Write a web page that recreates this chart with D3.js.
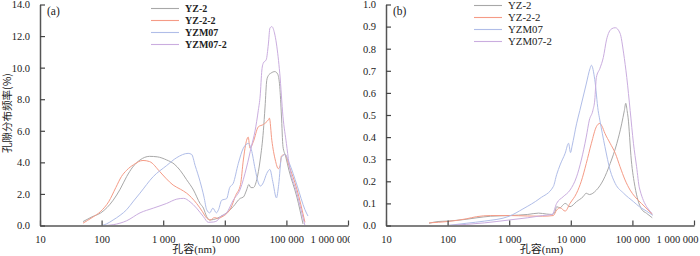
<!DOCTYPE html>
<html><head><meta charset="utf-8">
<script src="https://cdn.jsdelivr.net/npm/d3@7"></script>
<style>
html,body{margin:0;padding:0;background:#fff;}
svg{display:block;}
text{font-family:"Liberation Serif","Times New Roman",serif;fill:#222;}
.cjk{font-family:"Noto Sans CJK SC","Noto Sans",sans-serif;}
</style></head>
<body>
<svg id="c" width="700" height="256"></svg>
<script>
// ---------- data ----------
const seriesNames = ["YZ-2", "YZ-2-2", "YZM07", "YZM07-2"];
const xTickValues = [10, 100, 1000, 10000, 100000, 1000000];
const xTickLabels = ["10", "100", "1 000", "10 000", "100 000", "1 000 000"];
const yTicksA = [0, 2, 4, 6, 8, 10, 12, 14];
const yTicksB = [0, 0.1, 0.2, 0.3, 0.4, 0.5, 0.6, 0.7, 0.8, 0.9, 1.0];

// panel (a): [pore size nm, frequency %]
const aYZ2 = [[50,0.25],[70,0.55],[97,0.8],[154,1.6],[200,2.3],[255,3.1],[320,3.7],[420,4.15],[600,4.38],[800,4.35],[1140,4.15],[1500,3.9],[1880,3.5],[2400,2.9],[3100,2.25],[3960,1.4],[4500,1.1],[5080,0.56],[5700,0.35],[6500,0.38],[7500,0.45],[8400,0.55],[10700,0.8],[13700,1.2],[17800,1.72],[20000,1.8],[22600,2.25],[24500,2.6],[26500,2.4],[29000,2.4],[33000,2.9],[37500,4.15],[42300,6.0],[45000,7.5],[48000,9.2],[51000,9.5],[56000,9.65],[65000,9.75],[72000,9.6],[78000,8.8],[83000,7.0],[88000,5.0],[97000,4.4],[110000,3.5],[148000,1.8],[186000,0.1]];
const aYZ22 = [[50,0.15],[70,0.5],[97,0.9],[130,1.5],[170,2.4],[210,3.1],[255,3.5],[330,3.85],[470,4.12],[600,4.05],[887,3.4],[1100,3.0],[1450,2.56],[1900,2.3],[2400,2.05],[3480,1.4],[4300,0.9],[5080,0.47],[5800,0.35],[6800,0.5],[7800,0.45],[9000,0.55],[10700,0.75],[12500,1.1],[15000,1.9],[18000,2.6],[20000,4.15],[22600,5.4],[24000,5.6],[25600,4.9],[29000,5.3],[35000,6.25],[42300,6.4],[51000,6.7],[53000,6.8],[58000,5.4],[66000,4.15],[74000,3.6],[79000,3.8],[83000,4.4],[95000,4.5],[110000,3.8],[148000,2.3],[200000,0.2]];
const aYZM07 = [[100,0.0],[120,0.1],[154,0.35],[200,0.65],[255,1.0],[330,1.55],[420,2.05],[690,3.1],[1140,3.8],[1660,4.3],[2540,4.57],[2900,4.5],[3300,3.8],[3960,2.8],[4600,1.8],[5080,1.0],[5700,0.8],[6400,1.1],[7300,0.8],[7900,1.0],[8900,1.6],[10700,1.7],[12000,2.4],[13700,2.67],[16600,3.94],[20000,4.9],[24200,5.2],[27000,4.8],[31000,3.6],[35000,2.7],[38000,2.5],[42000,2.7],[48000,3.3],[54000,3.55],[60000,2.8],[69000,1.75],[75000,2.6],[83000,4.3],[95000,4.5],[110000,4.0],[150000,2.5],[200000,1.0],[224000,0.6]];
const aYZM072 = [[110,0.0],[154,0.05],[255,0.3],[420,0.8],[690,1.1],[1140,1.4],[1660,1.67],[2150,1.72],[2730,1.5],[3480,1.1],[4500,0.56],[5400,0.2],[6500,0.22],[7500,0.3],[8400,0.55],[10700,0.8],[13700,1.6],[17800,2.3],[22600,3.7],[27000,5.0],[31000,6.0],[35000,7.3],[37500,8.2],[40000,9.85],[42300,10.3],[47000,10.5],[51000,11.5],[54000,12.5],[58000,12.6],[64000,12.2],[69000,11.5],[78000,9.65],[88000,6.9],[100000,5.2],[110000,3.95],[148000,2.05],[200000,0.0]];

// panel (b): [pore size nm, frequency]
const bYZ2 = [[50,0.01],[70,0.018],[100,0.02],[200,0.028],[300,0.035],[500,0.042],[1000,0.045],[2000,0.05],[3000,0.056],[4000,0.052],[5000,0.05],[5500,0.06],[5890,0.085],[6700,0.08],[7300,0.09],[8100,0.1],[9700,0.085],[12400,0.108],[15800,0.13],[17800,0.146],[20000,0.14],[26000,0.16],[33700,0.206],[43500,0.28],[56000,0.372],[67000,0.46],[74000,0.52],[78000,0.553],[82000,0.52],[85000,0.49],[96000,0.296],[110000,0.176],[123000,0.115],[140000,0.075],[170000,0.055],[210000,0.035]];
const bYZ22 = [[50,0.012],[100,0.018],[200,0.03],[296,0.04],[500,0.045],[1000,0.045],[2000,0.043],[3500,0.042],[5200,0.045],[5890,0.07],[6700,0.08],[8100,0.065],[9700,0.1],[12400,0.146],[14800,0.2],[17800,0.28],[21600,0.372],[26000,0.447],[29600,0.462],[32000,0.45],[35800,0.417],[43500,0.372],[52700,0.327],[63000,0.266],[76000,0.206],[92000,0.16],[110000,0.13],[140000,0.1],[180000,0.07],[210000,0.05]];
const bYZM07 = [[100,0.0],[200,0.01],[400,0.02],[1000,0.042],[1670,0.075],[3160,0.123],[5200,0.176],[5890,0.23],[6700,0.274],[8100,0.327],[9200,0.372],[9900,0.33],[10500,0.36],[12400,0.46],[14000,0.52],[17800,0.64],[20500,0.71],[21600,0.725],[24500,0.66],[27800,0.52],[29600,0.477],[35800,0.357],[43500,0.25],[52700,0.19],[72000,0.146],[104000,0.108],[130000,0.085],[170000,0.065],[215000,0.046]];
const bYZM072 = [[100,0.0],[200,0.005],[400,0.012],[1000,0.025],[2000,0.035],[3500,0.045],[5000,0.05],[5890,0.1],[7500,0.13],[9700,0.16],[12400,0.22],[14800,0.296],[17800,0.4],[20000,0.477],[22800,0.52],[24500,0.568],[26000,0.67],[29600,0.71],[33700,0.76],[38000,0.84],[46000,0.89],[52700,0.895],[63000,0.87],[72000,0.78],[81000,0.67],[92000,0.52],[104000,0.372],[117000,0.266],[130000,0.17],[210000,0.055]];

const colors = ["#a8a8a8", "#f59b86", "#b0bde8", "#caaddf"];

// ---------- drawing ----------
const svg = d3.select("#c");

function panel(opts) {
  const g = svg.append("g");
  svg.append("clipPath").attr("id", opts.id + "clip").append("rect")
    .attr("x", opts.clip[0]).attr("y", 0).attr("width", opts.clip[1] - opts.clip[0]).attr("height", 256);
  g.attr("clip-path", "url(#" + opts.id + "clip)");
  const x = d3.scaleLog().domain([10, 1e6]).range(opts.xr);
  const y = d3.scaleLinear().domain(opts.yd).range([225.5, 4.5]);

  // lines
  const line = d3.line().x(d => x(d[0])).y(d => y(d[1])).curve(d3.curveMonotoneX);
  opts.series.forEach((s, i) => {
    g.append("path").datum(s).attr("d", line)
      .attr("fill", "none").attr("stroke", colors[i]).attr("stroke-width", 1);
  });

  // x axis
  const xa = d3.axisBottom(x).tickValues(xTickValues)
    .tickFormat((d, i) => xTickLabels[i]).tickSizeInner(-5).tickSizeOuter(0).tickPadding(10);
  const gx = g.append("g").attr("transform", "translate(0,225.5)").call(xa);
  gx.select(".domain").attr("stroke", "#808080").attr("stroke-width", 1.8);
  gx.selectAll(".tick line").attr("stroke", "#444").attr("stroke-width", 1.2);
  gx.selectAll("text").attr("font-size", 10.5).attr("fill", "#222")
    .style("font-family", '"Liberation Serif", serif');
  gx.selectAll(".tick text").filter(d => d === 1e6).attr("text-anchor", "end").attr("dx", 4);

  // y axis
  const ya = d3.axisLeft(y).tickValues(opts.yt)
    .tickFormat(d3.format(".1f")).tickSizeInner(-5).tickSizeOuter(0).tickPadding(10);
  const gy = g.append("g").attr("transform", "translate(" + opts.xr[0] + ",0)").call(ya);
  gy.select(".domain").attr("stroke", "#555").attr("stroke-width", 1.5);
  gy.selectAll(".tick line").attr("stroke", "#444").attr("stroke-width", 1.2);
  gy.selectAll("text").attr("font-size", 10.5).attr("fill", "#222")
    .style("font-family", '"Liberation Serif", serif');

  // panel label
  g.append("text").attr("x", opts.xr[0] + 7).attr("y", 15).attr("font-size", 11.5).text(opts.label);

  // x title
  g.append("text").attr("x", (opts.xr[0] + opts.xr[1]) / 2 + opts.titleDx).attr("y", 253)
    .attr("text-anchor", "middle").attr("font-size", 11)
    .html('<tspan class="cjk">孔容</tspan><tspan>(nm)</tspan>');

  // legend
  const lg = g.append("g");
  seriesNames.forEach((n, i) => {
    const yy = opts.legY + 12 * i;
    lg.append("line").attr("x1", opts.legX).attr("x2", opts.legX + 28).attr("y1", yy).attr("y2", yy)
      .attr("stroke", colors[i]).attr("stroke-width", 1.1);
    lg.append("text").attr("x", opts.legX + 34).attr("y", yy + 3.8).attr("font-size", opts.legFont)
      .attr("font-weight", opts.legBold ? "bold" : "normal").text(n);
  });
  return g;
}

panel({id: "a", xr: [40, 348], yd: [0, 14], yt: yTicksA, label: "(a)",
  series: [aYZ2, aYZ22, aYZM07, aYZM072], legX: 151, legY: 8.5, legFont: 10, legBold: true,
  titleDx: 0, clip: [0, 350]});
panel({id: "b", xr: [386, 694], yd: [0, 1], yt: yTicksB, label: "(b)",
  series: [bYZ2, bYZ22, bYZM07, bYZM072], legX: 474, legY: 5.5, legFont: 10.8, legBold: false,
  titleDx: 1.5, clip: [350, 700]});

// y title
svg.append("text").attr("class", "cjk").attr("transform", "translate(11,113) rotate(-90)")
  .attr("text-anchor", "middle").attr("font-size", 10.5)
  .style("font-family", '"Noto Sans CJK SC", sans-serif').text("孔隙分布频率(%)");
</script>
</body></html>
